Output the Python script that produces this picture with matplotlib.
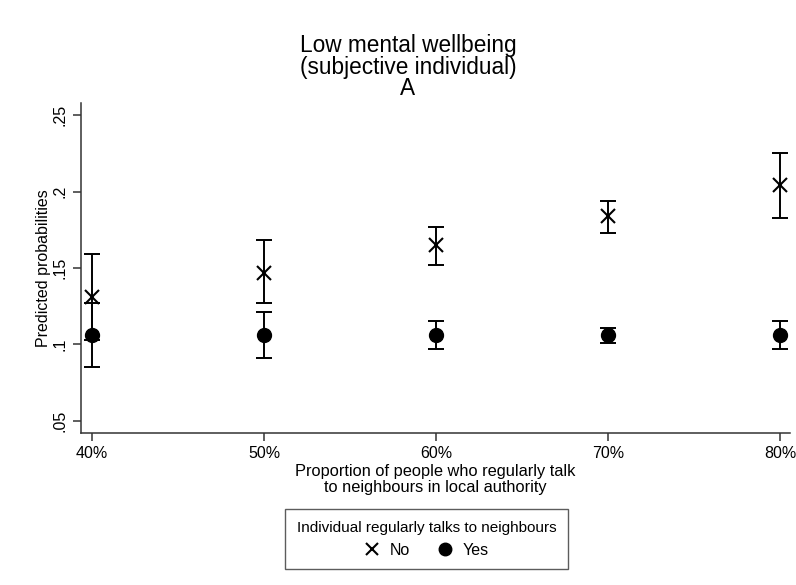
import numpy as np
import matplotlib
matplotlib.use('Agg')
import matplotlib.pyplot as plt

plt.rcParams['font.family'] = ['Liberation Sans', 'DejaVu Sans']

# proportion of people who regularly talk to neighbours in local authority
x_vals = [40, 50, 60, 70, 80]
x_labels = ['40%', '50%', '60%', '70%', '80%']

# individual does not talk to neighbours
no_est = [0.131, 0.147, 0.165, 0.184, 0.204]
no_lo = [0.103, 0.127, 0.152, 0.173, 0.183]
no_hi = [0.159, 0.168, 0.177, 0.194, 0.225]

# individual talks to neighbours
yes_est = [0.106, 0.106, 0.106, 0.106, 0.106]
yes_lo = [0.085, 0.091, 0.097, 0.101, 0.097]
yes_hi = [0.127, 0.121, 0.115, 0.111, 0.115]

fig = plt.figure(figsize=(7.96, 5.85), dpi=100)
ax = fig.add_axes([0.1018, 0.2598, 0.8907, 0.5642])

no_est = np.array(no_est)
yes_est = np.array(yes_est)
no_err = [no_est - np.array(no_lo), np.array(no_hi) - no_est]
yes_err = [yes_est - np.array(yes_lo), np.array(yes_hi) - yes_est]

ax.errorbar(x_vals, no_est, yerr=no_err, fmt='none', ecolor='black',
            elinewidth=1.4, capsize=6, capthick=1.4)
ax.errorbar(x_vals, yes_est, yerr=yes_err, fmt='none', ecolor='black',
            elinewidth=1.4, capsize=6, capthick=1.4)
h_no, = ax.plot(x_vals, no_est, 'x', color='black', markersize=10,
                markeredgewidth=1.5, linestyle='none', label='No')
h_yes, = ax.plot(x_vals, yes_est, 'o', color='black', markersize=10,
                 linestyle='none', label='Yes')

ax.set_xlim(39.36, 80.58)
ax.set_ylim(0.042, 0.258)
ax.set_xticks(x_vals)
ax.set_xticklabels(x_labels)
ax.set_yticks([0.05, 0.1, 0.15, 0.2, 0.25])
ax.set_yticklabels(['.05', '.1', '.15', '.2', '.25'], rotation=90,
                   va='center')
ax.tick_params(axis='both', labelsize=11.5, length=6, width=1.1,
               color='#333333')

for s in ['top', 'right']:
    ax.spines[s].set_visible(False)
for s in ['left', 'bottom']:
    ax.spines[s].set_color('#333333')
    ax.spines[s].set_linewidth(1.1)

ax.set_xlabel('Proportion of people who regularly talk\nto neighbours in local authority',
              fontsize=11.8, linespacing=1.1, labelpad=2)
ax.set_ylabel('Predicted probabilities', fontsize=11.5, labelpad=1)

fig.text(0.5125, 0.885, 'Low mental wellbeing\n(subjective individual)\nA',
         ha='center', va='center', fontsize=16.3, linespacing=0.92)

leg = fig.legend(handles=[h_no, h_yes], labels=['No', 'Yes'], ncol=2,
                 title='Individual regularly talks to neighbours',
                 loc='center', bbox_to_anchor=(0.536, 0.0786),
                 fontsize=11.5, title_fontsize=11, frameon=True,
                 fancybox=False, edgecolor='#333333', markerscale=0.9,
                 handlelength=1.0, handletextpad=0.6, columnspacing=1.7,
                 borderpad=0.75)
leg.get_frame().set_linewidth(1.0)

fig.savefig('out.png', dpi=100, facecolor='white')
